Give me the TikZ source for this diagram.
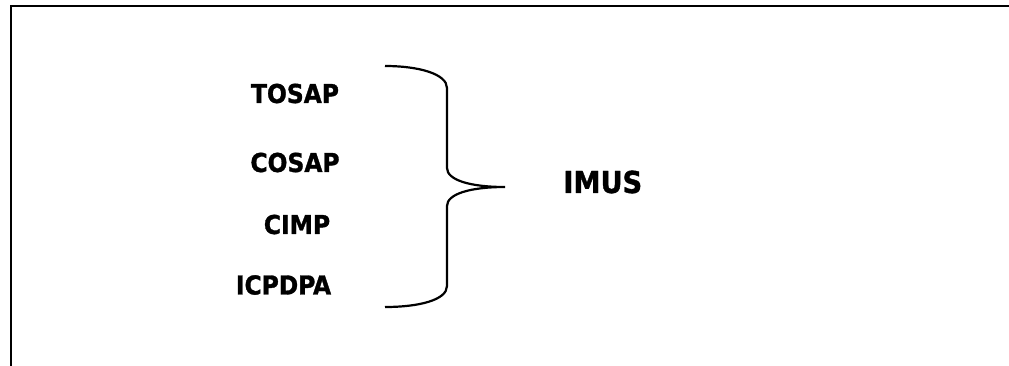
\documentclass[tikz,border=0pt]{standalone}
\usepackage{fontspec}
\setmainfont{DejaVu Sans Condensed}[BoldFeatures={FakeBold=1.2}]
\usetikzlibrary{positioning}

\begin{document}
\begin{tikzpicture}[x=0.5pt, y=-0.5pt,
    acro/.style={font=\bfseries\fontsize{13}{15}\selectfont, inner sep=0pt},
    group/.style={font=\bfseries\fontsize{15.1}{18}\selectfont, inner sep=0pt},
    node distance=31pt]
    \useasboundingbox (0,0) rectangle (1009,365);
    % frame, only top and left edges show
    \draw[line width=1.4pt] (11,380) -- (11,6) -- (1020,6);

    \node[acro] (tosap) at (295,93.5) {TOSAP};
    \node[acro, below of=tosap, node distance=34.5pt] (cosap) {COSAP};
    \node[acro, below of=cosap, xshift=1pt] (cimp) {CIMP};
    \node[acro, below of=cimp, node distance=30.25pt, xshift=-6.75pt] (icpdpa) {ICPDPA};

    \coordinate (brace top) at (385,66);
    \coordinate (brace tip) at (505,187);
    \coordinate (brace bottom) at (385,307);
    \node[group, right=29pt of brace tip, yshift=2.5pt] (imus) {IMUS};

    % brace
    \draw[line width=1.1pt] (brace top) .. controls (419,66) and (447,74) .. (447,88)
        -- (447,168) .. controls (447,180) and (470,187) .. (brace tip)
        .. controls (470,187) and (447,194) .. (447,206)
        -- (447,286) .. controls (447,300) and (419,307) .. (brace bottom);
\end{tikzpicture}
\end{document}
